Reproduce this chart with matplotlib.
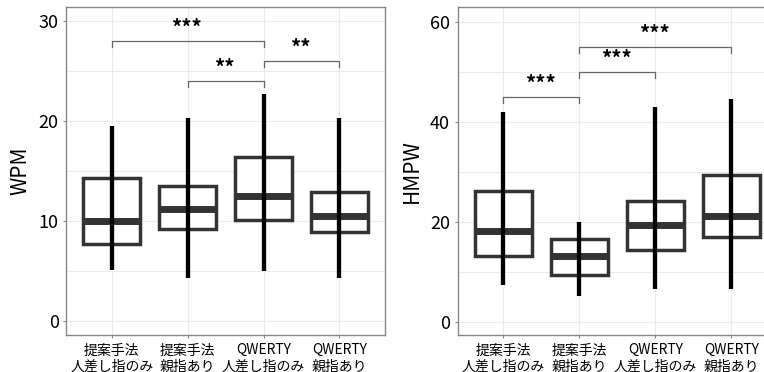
import matplotlib
matplotlib.use("Agg")
import matplotlib.pyplot as plt

plt.rcParams['font.family'] = ['Noto Sans CJK JP', 'DejaVu Sans']

# Data
categories = ["提案手法\n人差し指のみ", "提案手法\n親指あり", "QWERTY\n人差し指のみ", "QWERTY\n親指あり"]

wpm_min = [5.1, 4.25, 5.0, 4.25]
wpm_q1 = [7.65, 9.2, 10.1, 8.9]
wpm_med = [10.0, 11.15, 12.5, 10.5]
wpm_q3 = [14.25, 13.5, 16.4, 12.9]
wpm_max = [19.5, 20.3, 22.7, 20.3]

hmpw_min = [7.4, 5.2, 6.6, 6.6]
hmpw_q1 = [13.2, 9.4, 14.4, 16.9]
hmpw_med = [18.2, 13.2, 19.4, 21.2]
hmpw_q3 = [26.2, 16.6, 24.1, 29.4]
hmpw_max = [42.1, 19.9, 43.1, 44.6]

# significance brackets: (from, to, height, label)
wpm_sig = [(1, 3, 28, "***"), (2, 3, 24, "**"), (3, 4, 26, "**")]
hmpw_sig = [(1, 2, 45, "***"), (2, 3, 50, "***"), (2, 4, 55, "***")]

W, H = 764, 372
fig = plt.figure(figsize=(W / 100, H / 100), dpi=100)
ax1 = fig.add_axes([66.3 / W, 37 / H, 318.7 / W, 328 / H])
ax2 = fig.add_axes([457.7 / W, 37 / H, 319.3 / W, 328 / H])


def draw_panel(ax, lo, q1, med, q3, hi, sig, ylabel, ylim, yticks, minor, tip):
    pos = [1, 2, 3, 4]
    stats = [dict(whislo=a, q1=b, med=c, q3=d, whishi=e, fliers=[])
             for a, b, c, d, e in zip(lo, q1, med, q3, hi)]
    ax.bxp(stats, positions=pos, widths=0.75, showcaps=False, showfliers=False,
           patch_artist=True,
           boxprops=dict(facecolor='white', edgecolor='#333333', linewidth=2.5),
           medianprops=dict(color='#333333', linewidth=5.0, solid_capstyle='butt'),
           whiskerprops=dict(linewidth=0), zorder=2)
    ax.vlines(pos, lo, hi, colors='black', linewidth=3.1, zorder=3)

    for a, b, h, lab in sig:
        ax.plot([a, a, b, b], [h - tip, h, h, h - tip], color='#666666', lw=0.9, zorder=4)
        ax.annotate(lab, xy=((a + b) / 2, h), xytext=(0, 1.5), textcoords='offset points',
                    ha='center', va='bottom', fontsize=14.5, fontweight='bold', zorder=4)

    ax.set_xlim(0.4, 4.6)
    ax.set_ylim(*ylim)
    ax.set_yticks(yticks)
    ax.set_yticks(minor, minor=True)
    ax.set_xticks(pos)
    ax.set_xticklabels(categories, fontsize=10, linespacing=1.2)
    ax.tick_params(axis='y', labelsize=13, length=2.5, color='#888888', pad=3)
    ax.tick_params(axis='x', length=2.5, color='#888888', pad=3.5)
    ax.tick_params(which='minor', length=0)
    ax.grid(True, which='both', color='#ebebeb', linewidth=0.8, zorder=0)
    ax.set_axisbelow(True)
    for s in ax.spines.values():
        s.set_color('#888888')
        s.set_linewidth(1.0)
    ax.set_ylabel(ylabel, fontsize=15, labelpad=5)


draw_panel(ax1, wpm_min, wpm_q1, wpm_med, wpm_q3, wpm_max, wpm_sig, "WPM",
           (-1.43, 31.4), [0, 10, 20, 30], [5, 15, 25], 0.6)
draw_panel(ax2, hmpw_min, hmpw_q1, hmpw_med, hmpw_q3, hmpw_max, hmpw_sig, "HMPW",
           (-2.67, 63.1), [0, 20, 40, 60], [10, 30, 50], 1.1)

fig.savefig("out.png", dpi=100)
